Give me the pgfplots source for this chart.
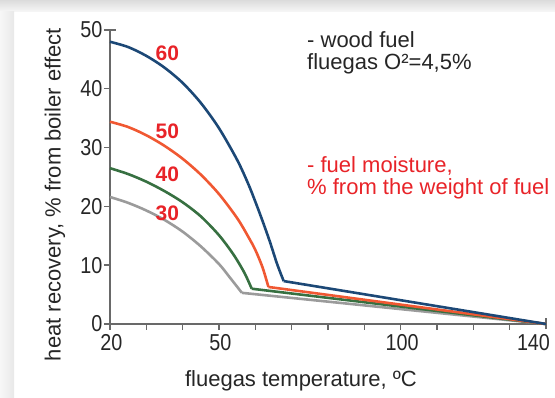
\documentclass[border=0pt]{standalone}
\usepackage{pgfplots}
\pgfplotsset{compat=1.18}
\usepackage{fontspec}
\setmainfont{Liberation Sans}
\newfontfamily\tickfont[FakeStretch=0.86]{Liberation Sans}
\definecolor{cblue}{RGB}{28,72,118}
\definecolor{corange}{RGB}{240,88,50}
\definecolor{cgreen}{RGB}{55,112,65}
\definecolor{cgray}{RGB}{155,155,155}
\definecolor{cred}{RGB}{232,35,40}
\definecolor{caxis}{RGB}{105,105,105}
\begin{document}
\begin{tikzpicture}[x=1pt,y=1pt]
\shade[top color=black!14, bottom color=black!3] (0,386) rectangle (555,398);
\shade[left color=black!3, right color=black!9] (0,0) rectangle (14,386);
\begin{axis}[
  at={(110pt,74pt)}, anchor=south west,
  scale only axis, width=436pt, height=294pt,
  xmin=20, xmax=140, ymin=0, ymax=50,
  axis lines=left,
  axis line style={-, draw=caxis, line width=2pt},
  xtick={20,30,...,130}, xticklabels={20,,,50,,,,,100,,,},
  extra x ticks={140}, extra x tick labels={140},
  extra x tick style={tick align=center, major tick length=11pt, xticklabel style={xshift=-14pt}},
  ytick={0,10,20,30,40},
  extra y ticks={50}, extra y tick labels={50},
  extra y tick style={tick align=center, major tick length=12pt},
  tick align=outside, major tick length=6pt,
  tick style={draw=caxis, line width=1.4pt},
  /pgf/number format/assume math mode=true,
  ticklabel style={font=\tickfont\fontsize{23}{23}\selectfont, text=black!85},
  yticklabel style={inner xsep=1.5pt},
  xticklabel style={inner ysep=4.5pt, xshift=1.5pt},
  xlabel={fluegas temperature, ºC},
  ylabel={heat recovery, \% from boiler effect},
  xlabel style={font=\fontsize{22}{22}\selectfont, text=black!85, at={(axis description cs:0.438,-0.211)}, anchor=base},
  ylabel style={font=\fontsize{22}{22}\selectfont, text=black!85, at={(axis description cs:-0.126,0.44)}, anchor=center},
  clip=false,
]
% 30 %
\addplot[cgray, line width=2.6pt, smooth] coordinates {(20,21.6) (25,20.6) (30,19.3) (35,17.7) (40,15.7) (45,13.2) (50,10.2) (53,7.9) (56.3,5.3)};
\addplot[cgray, line width=2.6pt] coordinates {(56.3,5.3) (140,0)};
% 40 %
\addplot[cgreen, line width=2.6pt, smooth] coordinates {(20,26.5) (25,25.5) (30,24.2) (35,22.6) (40,20.7) (45,18.3) (50,15.1) (54,11.8) (57,8.7) (59,6.0)};
\addplot[cgreen, line width=2.6pt] coordinates {(59,6.0) (140,0)};
% 50 %
\addplot[corange, line width=2.6pt, smooth] coordinates {(20,34.4) (25,33.5) (30,32.1) (35,30.3) (40,28.1) (45,25.4) (50,22.1) (55,18.0) (58,14.9) (60,12.6) (62,9.6) (63.6,6.3)};
\addplot[corange, line width=2.6pt] coordinates {(63.6,6.3) (140,0)};
% 60 %
\addplot[cblue, line width=2.6pt, smooth] coordinates {(20,48.0) (25,47.1) (30,45.6) (35,43.6) (40,41.0) (45,37.6) (50,33.3) (55,27.9) (58,23.9) (60,20.8) (62,17.5) (64,14.0) (66,10.2) (67.8,7.3)};
\addplot[cblue, line width=2.6pt] coordinates {(67.8,7.3) (140,0)};
\node[text=cred, font=\bfseries\fontsize{21}{21}\selectfont] at (axis cs:35.8,46) {60};
\node[text=cred, font=\bfseries\fontsize{21}{21}\selectfont] at (axis cs:35.8,32.7) {50};
\node[text=cred, font=\bfseries\fontsize{21}{21}\selectfont] at (axis cs:35.8,25.5) {40};
\node[text=cred, font=\bfseries\fontsize{21}{21}\selectfont] at (axis cs:35.8,18.8) {30};
\end{axis}
\node[anchor=base west, inner sep=0pt, text=black!85, font=\fontsize{22}{22}\selectfont] at (307,350) {- wood fuel};
\node[anchor=base west, inner sep=0pt, text=black!85, font=\fontsize{22}{22}\selectfont] at (307,328) {fluegas O²=4,5\%};
\node[anchor=base west, inner sep=0pt, text=cred, font=\fontsize{22}{22}\selectfont] at (307,225) {- fuel moisture,};
\node[anchor=base west, inner sep=0pt, text=cred, font=\fontsize{22}{22}\selectfont] at (307,203) {\% from the weight of fuel};
\pgfresetboundingbox
\useasboundingbox (0,0) rectangle (555,398);
\end{tikzpicture}
\end{document}
